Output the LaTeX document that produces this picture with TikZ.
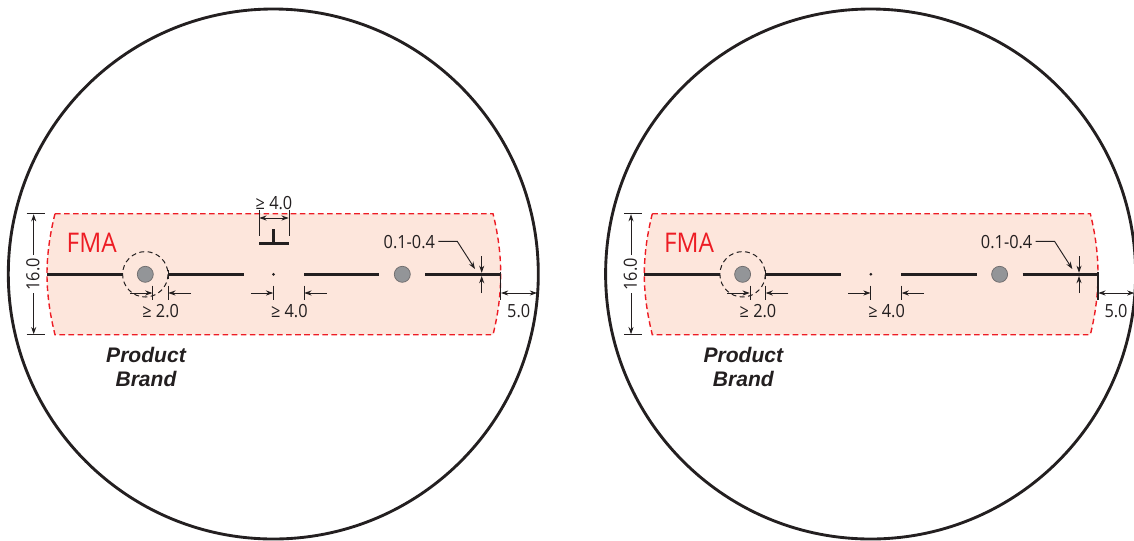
\documentclass[tikz,border=0pt]{standalone}
\usepackage{fontspec}
\setmainfont[FakeStretch=0.9]{Open Sans}
\newfontfamily\brandfont{Liberation Sans}
\usetikzlibrary{arrows.meta}
\definecolor{ink}{HTML}{231F20}
\definecolor{fmared}{HTML}{ED1C24}
\definecolor{fmafill}{HTML}{FDE6DC}
\definecolor{holegrey}{HTML}{939598}
\tikzset{
  outer/.style={draw=ink,line width=2.15pt},
  zone/.style={fill=fmafill},
  zoneedge/.style={draw=fmared,line width=1.05pt,dash pattern=on 4.2pt off 2.6pt},
  groove/.style={draw=ink,line width=1.85pt},
  hole/.style={circle,draw=ink!65,fill=holegrey,line width=.55pt,minimum size=12pt,inner sep=0pt},
  keepout/.style={draw=ink,line width=.75pt,dash pattern=on 3.7pt off 2.6pt},
  ticks/.style={draw=ink,line width=.72pt},
  dimline/.style={draw=ink,line width=.7pt,-{Stealth[length=5.4pt,width=3.8pt]}},
  dimboth/.style={draw=ink,line width=.7pt,{Stealth[length=5.4pt,width=3.8pt]}-{Stealth[length=5.4pt,width=3.8pt]}},
  dimlabel/.style={text=ink,font=\fontsize{13.6}{15}\selectfont,inner sep=0pt},
  fmalabel/.style={text=fmared,font=\fontsize{20.3}{22}\selectfont,inner sep=0pt},
  brand/.style={text=ink,font=\brandfont\fontsize{15.8}{18}\selectfont\bfseries\itshape,inner sep=0pt},
}
\newcommand{\panel}[1]{%
  \draw[outer] (273.3,274) circle (265);
  \path[zone] (55,213.7) -- (493,213.7) .. controls (498,233.8) and (500.7,254) .. (500.7,274.2)
     .. controls (500.7,294.5) and (498,314.6) .. (493,334.7) -- (55,334.7)
     .. controls (50,314.6) and (47,294.5) .. (47,274.2) .. controls (47,254) and (50,233.8) .. (55,213.7) -- cycle;
  \draw[zoneedge] (55,213.7) -- (493,213.7) .. controls (498,233.8) and (500.7,254) .. (500.7,274.2)
     .. controls (500.7,294.5) and (498,314.6) .. (493,334.7) -- (55,334.7)
     .. controls (50,314.6) and (47,294.5) .. (47,274.2) .. controls (47,254) and (50,233.8) .. (55,213.7) -- cycle;
  % groove segments and holes
  \draw[groove] (47,274.3) -- (122.7,274.3);
  \draw[groove] (168,274.3) -- (243.5,274.3);
  \draw[groove] (304,274.3) -- (379.3,274.3);
  \draw[groove] (425.3,274.3) -- (500.7,274.3);
  \fill[ink] (273.5,274.3) circle (1.5);
  \node[hole] (holeA#1) at (145.3,274.3) {};
  \node[hole] (holeB#1) at (402.3,274.3) {};
  \draw[keepout] (145.3,274.3) circle (22.7);
  % labels
  \node[fmalabel] (fma#1) at (91.7,242.5) {FMA};
  \node[brand] (prod#1) at (146,355) {Product};
  \node[brand] (brnd#1) at (146,379) {Brand};
  \node[dimlabel] (gapA#1) at (160.7,311) {≥ 2.0};
  \node[dimlabel] (gapB#1) at (289.3,311) {≥ 4.0};
  \node[dimlabel] (rim#1) at (518.7,311) {5.0};
  \node[dimlabel] (wid#1) at (409.3,241.7) {0.1-0.4};
  \node[dimlabel,rotate=90] (hgt#1) at (33,274.3) {16.0};
  % height dimension
  \draw[ticks] (26.7,213.7) -- (45,213.7) (26.7,334.7) -- (45,334.7);
  \draw[dimline] (33.7,255) -- (33.7,214.2);
  \draw[dimline] (33.7,293) -- (33.7,334.2);
  % gap dimensions
  \draw[ticks] (152.7,285.7) -- (152.7,300) (168,285.7) -- (168,300) (168,270) -- (168,279);
  \draw[dimline] (130,293) -- (152.4,293);
  \draw[dimline] (191,293) -- (168.3,293);
  \draw[ticks] (273.5,285.7) -- (273.5,300) (304,285.7) -- (304,300);
  \draw[dimline] (251,293) -- (273.2,293);
  \draw[dimline] (326.7,293) -- (304.3,293);
  % width dimension
  \draw[dimline] (438.3,241.4) -- (457.3,241.4) -- (475,269);
  \draw[dimline] (481.7,256) -- (481.7,272.8);
  \draw[dimline] (481.7,293) -- (481.7,276);
  % rim dimension
  \draw[ticks,line width=.9pt] (500.7,272) -- (500.7,300);
  \draw[dimboth] (501,293) -- (537,293);
}
\begin{document}
\begin{tikzpicture}[x=.75pt,y=-.75pt]
  \path[use as bounding box,clip] (0,0) rectangle (1134,540);
  \panel{L}
  % T-shaped mark, left panel only
  \draw[groove] (259,243.7) -- (289,243.7);
  \draw[groove] (273.7,229.3) -- (273.7,243.7);
  \draw[ticks] (259,210) -- (259,236) (289,210) -- (289,236);
  \draw[dimboth] (259.3,218) -- (288.7,218);
  \node[dimlabel] (tee) at (274,202.7) {≥ 4.0};
  \begin{scope}[xshift=447.98pt]
    \panel{R}
  \end{scope}
\end{tikzpicture}
\end{document}
